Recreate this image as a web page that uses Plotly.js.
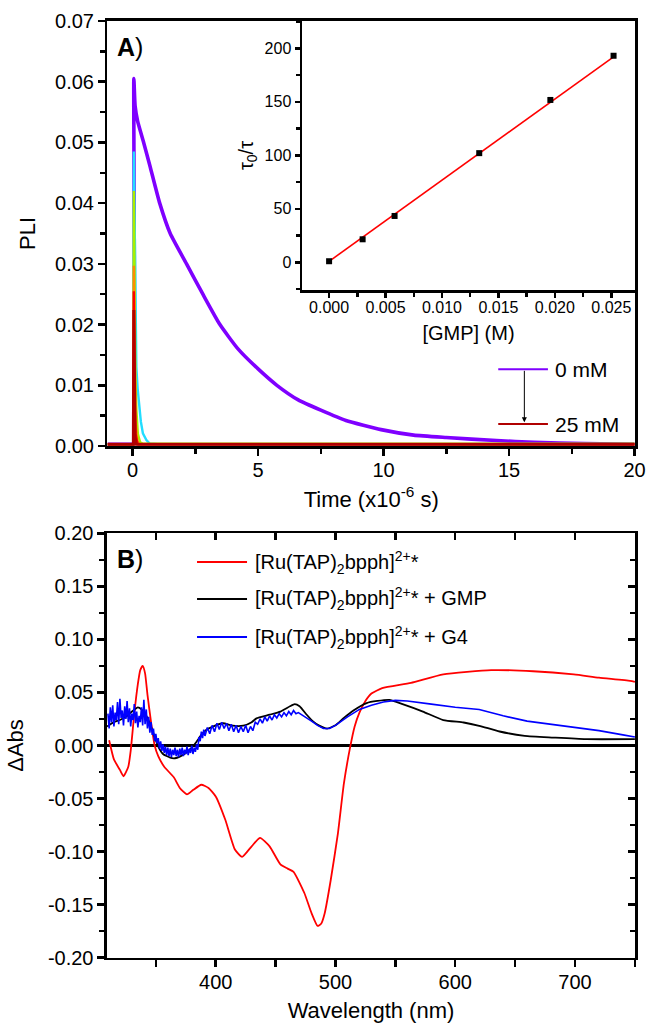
<!DOCTYPE html>
<html>
<head>
<meta charset="utf-8">
<script src="https://cdn.plot.ly/plotly-3.0.1.min.js"></script>
<style>html,body{margin:0;padding:0;background:#fff;}#chart{width:646px;height:1023px;}</style>
</head>
<body>
<div id="chart"></div>
<script>
// ---------- Panel A: luminescence decays ----------
const t0mM = [-1, 0.0, 0.03, 0.05, 0.1, 0.2, 0.44, 0.7, 1.08, 1.5, 2.15, 2.8, 3.48, 4.2, 5.0, 5.75, 6.6, 7.5, 8.5, 9.9, 11.2, 12.5, 14.5, 16, 18, 20];
const pli0mM = [0.0003, 0.0003, 0.0003, 0.0605, 0.056, 0.0535, 0.050, 0.046, 0.040, 0.035, 0.030, 0.025, 0.020, 0.016, 0.0127, 0.0100, 0.0076, 0.0059, 0.0042, 0.0027, 0.0018, 0.0014, 0.0009, 0.0006, 0.0004, 0.0003];

const t3mM = [-1, 0.03, 0.05, 0.08, 0.12, 0.15, 0.2, 0.25, 0.33, 0.41, 0.55, 0.68, 1, 20];
const pli3mM = [0.0003, 0.0003, 0.0485, 0.035, 0.020, 0.013, 0.0095, 0.0076, 0.004, 0.0021, 0.001, 0.0004, 0.0003, 0.0003];

const t6mM = [-1, 0.03, 0.05, 0.08, 0.11, 0.15, 0.21, 0.3, 0.4, 20];
const pli6mM = [0.0003, 0.0003, 0.042, 0.025, 0.012, 0.006, 0.002, 0.0006, 0.0004, 0.0004];

const t13mM = [-1, 0.03, 0.05, 0.08, 0.12, 0.18, 0.25, 20];
const pli13mM = [0.0003, 0.0003, 0.0297, 0.012, 0.004, 0.001, 0.0003, 0.0003];

const t20mM = [-1, 0.03, 0.05, 0.08, 0.12, 0.2, 20];
const pli20mM = [0.0003, 0.0003, 0.0255, 0.008, 0.002, 0.0003, 0.0003];

const t25mM = [-1, 0.03, 0.05, 0.07, 0.1, 0.15, 20];
const pli25mM = [0.0003, 0.0003, 0.0224, 0.006, 0.0015, 0.0003, 0.0003];

const decayColors = ["#7F00FF", "#22DDFF", "#AAEE00", "#FF8C00", "#FF0000", "#B00000"];

// ---------- Inset: Stern-Volmer ----------
const gmpConc = [0, 0.00297, 0.0058, 0.0133, 0.0196, 0.0252];
const tauRatio = [1, 21.5, 43.3, 102, 151.7, 193];
const fitX = [0, 0.0252];
const fitY = [0.9, 192];

// ---------- Panel B: transient absorption ----------
const wlRu = [311, 315, 320, 323, 327, 329, 332, 335, 337, 339, 341, 343, 346, 349, 352, 357, 365, 370, 376, 381, 388, 394, 400, 408, 416, 422, 430, 437, 445, 454, 460, 465, 474, 480, 485, 488, 491, 496, 502, 507, 512, 516, 520, 525, 530, 539, 563, 590, 630, 665, 699, 720, 746, 750];
const dAbsRu = [0.005, -0.013, -0.023, -0.029, -0.020, -0.005, 0.030, 0.058, 0.071, 0.075, 0.068, 0.048, 0.022, 0.000, -0.010, -0.020, -0.030, -0.040, -0.046, -0.042, -0.037, -0.040, -0.048, -0.070, -0.098, -0.105, -0.095, -0.087, -0.095, -0.112, -0.116, -0.119, -0.139, -0.158, -0.170, -0.168, -0.158, -0.127, -0.083, -0.036, -0.003, 0.018, 0.031, 0.042, 0.049, 0.054, 0.059, 0.067, 0.071, 0.070, 0.067, 0.064, 0.061, 0.060];

const wlGMP = [309.3, 315, 320, 325, 330, 335, 338, 342, 345, 349, 352, 356, 362, 366, 370, 375, 380, 384, 388, 392, 398, 406, 414, 423, 430, 434, 445, 454, 462, 466, 470, 476, 481, 486, 493, 500, 507, 515, 526, 535, 545, 556, 573, 590, 607, 620, 637, 658, 682, 709, 750];
const dAbsGMP = [0.018, 0.022, 0.024, 0.027, 0.032, 0.036, 0.034, 0.028, 0.021, 0.008, -0.001, -0.008, -0.0115, -0.012, -0.0105, -0.007, -0.002, 0.0036, 0.010, 0.0146, 0.018, 0.021, 0.0187, 0.0187, 0.022, 0.0256, 0.029, 0.032, 0.037, 0.039, 0.037, 0.029, 0.023, 0.019, 0.016, 0.019, 0.026, 0.033, 0.040, 0.042, 0.043, 0.039, 0.032, 0.024, 0.0217, 0.0186, 0.0132, 0.0091, 0.0075, 0.006, 0.006];

const wlG4 = [310, 311, 312, 313, 314, 315, 316, 317, 318, 319, 320, 321, 322, 323, 324, 325, 326, 327, 328, 329, 330, 331, 332, 333, 334, 335, 336, 337, 338, 339, 340, 341, 342, 343, 344, 345, 346, 347, 348, 349, 350, 351, 352, 353, 354, 355, 356, 357, 358, 359, 360, 361, 362, 363, 364, 365, 366, 367, 368, 369, 370, 371, 372, 373, 374, 375, 376, 377, 378, 379, 380, 381, 382, 383, 384, 385, 386, 387, 388, 389, 390, 391,
  393, 395, 397, 399, 401, 403, 405, 407, 409, 411, 413, 415, 417, 419, 421, 423, 425, 427, 429, 431, 433, 435, 437, 439, 441, 443, 445, 447, 449, 451, 453, 455, 457, 459, 461, 463, 465, 467, 469,
  472, 476, 480, 485, 490, 495, 500, 510, 520, 530, 540, 550, 560, 580, 600, 620, 640, 660, 680, 700, 720, 740, 750];
const dAbsG4 = [0.030, 0.016, 0.036, 0.022, 0.038, 0.018, 0.031, 0.024, 0.041, 0.020, 0.044, 0.026, 0.033, 0.019, 0.037, 0.025, 0.042, 0.022, 0.035, 0.018, 0.030, 0.024, 0.039, 0.021, 0.032, 0.017, 0.028, 0.022, 0.036, 0.019, 0.043, 0.020, 0.034, 0.016, 0.027, 0.012, 0.022, 0.010, 0.016, 0.004, 0.011, 0.002, 0.007, -0.003, 0.004, -0.005, 0.001, -0.007, -0.001, -0.009, -0.002, -0.010, -0.003, -0.011, -0.004, -0.009, -0.002, -0.010, -0.004, -0.011, -0.003, -0.009, -0.002, -0.010, -0.004, -0.008, -0.001, -0.009, -0.003, -0.007, 0.000, -0.008, -0.002, -0.006, 0.001, -0.004, 0.008, 0.004, 0.013, 0.007, 0.015, 0.009,
  0.017, 0.011, 0.019, 0.013, 0.021, 0.015, 0.022, 0.016, 0.021, 0.014, 0.020, 0.013, 0.019, 0.012, 0.018, 0.013, 0.019, 0.012, 0.018, 0.014, 0.022, 0.020, 0.025, 0.021, 0.027, 0.023, 0.028, 0.024, 0.029, 0.026, 0.030, 0.027, 0.031, 0.028, 0.032, 0.029, 0.033, 0.030, 0.031,
  0.029, 0.026, 0.023, 0.019, 0.016, 0.016, 0.019, 0.027, 0.034, 0.038, 0.041, 0.0425, 0.042, 0.039, 0.036, 0.034, 0.028, 0.023, 0.020, 0.017, 0.014, 0.010, 0.008];

const bTickVals = [-0.20, -0.15, -0.10, -0.05, 0.00, 0.05, 0.10, 0.15, 0.20];
const bTickText = ["-0.20", "-0.15", "-0.10", "-0.05", "0.00", "0.05", "0.10", "0.15", "0.20"];

const legendB = ["[Ru(TAP)<sub>2</sub>bpph]<sup>2+</sup>*", "[Ru(TAP)<sub>2</sub>bpph]<sup>2+</sup>* + GMP", "[Ru(TAP)<sub>2</sub>bpph]<sup>2+</sup>* + G4"];
const colorsB = ["#FF0000", "#000000", "#0000FF"];

// ---------- Build ----------
const FONT = "Liberation Sans, Arial, sans-serif";
const decaySets = [[t0mM, pli0mM], [t3mM, pli3mM], [t6mM, pli6mM], [t13mM, pli13mM], [t20mM, pli20mM], [t25mM, pli25mM]];
const traces = decaySets.map((d, i) => ({
  x: d[0], y: d[1], type: "scatter", mode: "lines", xaxis: "x", yaxis: "y",
  line: i === 0 ? {color: decayColors[i], width: 3.6, shape: "spline", smoothing: 0.5}
                : {color: decayColors[i], width: i === 5 ? 3 : 2.4},
  showlegend: false, hoverinfo: "skip"
}));
traces.push({x: fitX, y: fitY, type: "scatter", mode: "lines", xaxis: "x2", yaxis: "y2", line: {color: "#FF0000", width: 1.6}, showlegend: false});
traces.push({x: gmpConc, y: tauRatio, type: "scatter", mode: "markers", xaxis: "x2", yaxis: "y2", marker: {symbol: "square", size: 6, color: "#000000"}, showlegend: false});
traces.push({x: wlRu, y: dAbsRu, type: "scatter", mode: "lines", xaxis: "x3", yaxis: "y3", line: {color: colorsB[0], width: 1.8, shape: "spline", smoothing: 0.5}, showlegend: false});
traces.push({x: wlGMP, y: dAbsGMP, type: "scatter", mode: "lines", xaxis: "x3", yaxis: "y3", line: {color: colorsB[1], width: 1.8, shape: "spline", smoothing: 0.5}, showlegend: false});
traces.push({x: wlG4, y: dAbsG4, type: "scatter", mode: "lines", xaxis: "x4", yaxis: "y4", line: {color: colorsB[2], width: 1.6}, showlegend: false});

const axLine = {showline: true, linecolor: "#000", linewidth: 2.5, showgrid: false, zeroline: false, automargin: false, tickcolor: "#000", ticklabeloverflow: "allow"};
const tickF = {family: FONT, size: 20, color: "#000"};
const titleF = {family: FONT, size: 22, color: "#000"};
const minorOut = (d, len) => ({dtick: d, ticks: "outside", ticklen: len, tickwidth: 2.5, tickcolor: "#000"});
const minorIn = (d, len) => ({dtick: d, ticks: "inside", ticklen: len, tickwidth: 2.5, tickcolor: "#000"});

const layout = {
  width: 646, height: 1023,
  margin: {l: 0, r: 0, t: 0, b: 0},
  showlegend: false,
  paper_bgcolor: "#fff", plot_bgcolor: "rgba(0,0,0,0)",
  font: {family: FONT, color: "#000"},
  xaxis: Object.assign({}, axLine, {
    domain: [0.1664, 0.983], range: [-1, 20.02], anchor: "y", mirror: true,
    ticks: "outside", ticklen: 7, tickwidth: 2.5, tick0: 0, dtick: 5, tickfont: tickF, ticklabelstandoff: -3,
    minor: minorOut(2.5, 5),
    title: {text: "Time (x10<sup>-6</sup> s)", font: titleF, standoff: 12}
  }),
  yaxis: Object.assign({}, axLine, {
    domain: [0.564, 0.9795], range: [0, 0.07], anchor: "x", mirror: true,
    ticks: "outside", ticklen: 7, tickwidth: 2.5, dtick: 0.01, tickformat: ".2f", tickfont: tickF,
    minor: minorOut(0.005, 5),
    title: {text: "PLI", font: titleF, standoff: 14}
  }),
  xaxis2: Object.assign({}, axLine, {
    domain: [0.4675, 0.983], range: [-0.0024, 0.0271], anchor: "y2", mirror: true,
    ticks: "outside", ticklen: 5, tickwidth: 2.5, tick0: 0, dtick: 0.005, tickformat: ".3f",
    tickfont: {family: FONT, size: 16, color: "#000"}, ticklabelstandoff: -4,
    minor: minorOut(0.0025, 4),
    title: {text: "[GMP] (M)", font: {family: FONT, size: 20, color: "#000"}, standoff: 12}
  }),
  yaxis2: Object.assign({}, axLine, {
    domain: [0.7165, 0.9795], range: [-25.9, 225.5], anchor: "x2", mirror: true,
    ticks: "outside", ticklen: 5, tickwidth: 2.5, tick0: 0, dtick: 50,
    tickfont: {family: FONT, size: 16, color: "#000"},
    minor: minorOut(25, 4),
    title: {text: "τ<sub>0</sub>/τ", font: {family: FONT, size: 20, color: "#000"}, standoff: 6}
  }),
  xaxis3: Object.assign({}, axLine, {
    domain: [0.1656, 0.983], range: [309.2, 750.1], anchor: "y3", mirror: true,
    ticks: "outside", ticklen: 7, tickwidth: 2.5, tick0: 0, dtick: 100, tickfont: tickF, ticklabelstandoff: -2,
    minor: minorOut(50, 7),
    title: {text: "Wavelength (nm)", font: titleF, standoff: 16}
  }),
  yaxis3: Object.assign({}, axLine, {
    domain: [0.0638, 0.4787], range: [-0.2, 0.2], anchor: "x3", mirror: true,
    ticks: "outside", ticklen: 7, tickwidth: 2.5, tickmode: "array", tickvals: bTickVals, ticktext: bTickText, tickfont: tickF,
    minor: {tickmode: "linear", tick0: 0, dtick: 0.025, ticks: "outside", ticklen: 5, tickwidth: 2.5, tickcolor: "#000"},
    zeroline: true, zerolinecolor: "#000", zerolinewidth: 2.2,
    title: {text: "ΔAbs", font: titleF, standoff: 18}
  }),
  xaxis4: {
    overlaying: "x3", side: "top", anchor: "y4", range: [309.2, 750.1], showgrid: false, zeroline: false,
    showline: false, showticklabels: false, ticks: "inside", ticklen: 7, tickwidth: 2.5, tickcolor: "#000", tick0: 0, dtick: 100,
    minor: minorIn(50, 7)
  },
  yaxis4: {
    overlaying: "y3", side: "right", anchor: "x4", range: [-0.2, 0.2], showgrid: false, zeroline: false,
    showline: false, showticklabels: false, ticks: "inside", ticklen: 7, tickwidth: 2.5, tickcolor: "#000", tick0: 0, dtick: 0.05,
    minor: minorIn(0.025, 5)
  },
  shapes: [
    {type: "line", xref: "x", yref: "y", x0: 14.57, x1: 16.55, y0: 0.01263, y1: 0.01263, line: {color: decayColors[0], width: 2}},
    {type: "line", xref: "x", yref: "y", x0: 14.57, x1: 16.55, y0: 0.00362, y1: 0.00362, line: {color: decayColors[5], width: 2}},
    {type: "line", xref: "paper", yref: "paper", x0: 0.305, x1: 0.3824, y0: 0.4506, y1: 0.4506, line: {color: colorsB[0], width: 2}},
    {type: "line", xref: "paper", yref: "paper", x0: 0.305, x1: 0.3824, y0: 0.4145, y1: 0.4145, line: {color: colorsB[1], width: 2}},
    {type: "line", xref: "paper", yref: "paper", x0: 0.305, x1: 0.3824, y0: 0.3773, y1: 0.3773, line: {color: colorsB[2], width: 2}}
  ],
  annotations: [
    {xref: "paper", yref: "paper", x: 0.178, y: 0.954, xanchor: "left", yanchor: "middle", showarrow: false, text: "<b>A</b>)", font: {family: FONT, size: 25, color: "#000"}},
    {xref: "paper", yref: "paper", x: 0.178, y: 0.4536, xanchor: "left", yanchor: "middle", showarrow: false, text: "<b>B</b>)", font: {family: FONT, size: 25, color: "#000"}},
    {xref: "x", yref: "y", x: 16.74, y: 0.01263, xanchor: "left", yanchor: "middle", showarrow: false, text: "0 mM", font: {family: FONT, size: 21, color: "#000"}},
    {xref: "x", yref: "y", x: 16.74, y: 0.00362, xanchor: "left", yanchor: "middle", showarrow: false, text: "25 mM", font: {family: FONT, size: 21, color: "#000"}},
    {xref: "x", yref: "y", x: 15.61, y: 0.0039, axref: "x", ayref: "y", ax: 15.61, ay: 0.01263, showarrow: true, arrowhead: 2, arrowsize: 1, arrowwidth: 1, arrowcolor: "#000", text: ""},
    {xref: "paper", yref: "paper", x: 0.3916, y: 0.4506, xanchor: "left", yanchor: "middle", showarrow: false, text: legendB[0], font: {family: FONT, size: 20, color: "#000"}},
    {xref: "paper", yref: "paper", x: 0.3916, y: 0.4145, xanchor: "left", yanchor: "middle", showarrow: false, text: legendB[1], font: {family: FONT, size: 20, color: "#000"}},
    {xref: "paper", yref: "paper", x: 0.3916, y: 0.3773, xanchor: "left", yanchor: "middle", showarrow: false, text: legendB[2], font: {family: FONT, size: 20, color: "#000"}}
  ]
};

Plotly.newPlot("chart", traces, layout, {displayModeBar: false, staticPlot: true});
</script>
</body>
</html>
